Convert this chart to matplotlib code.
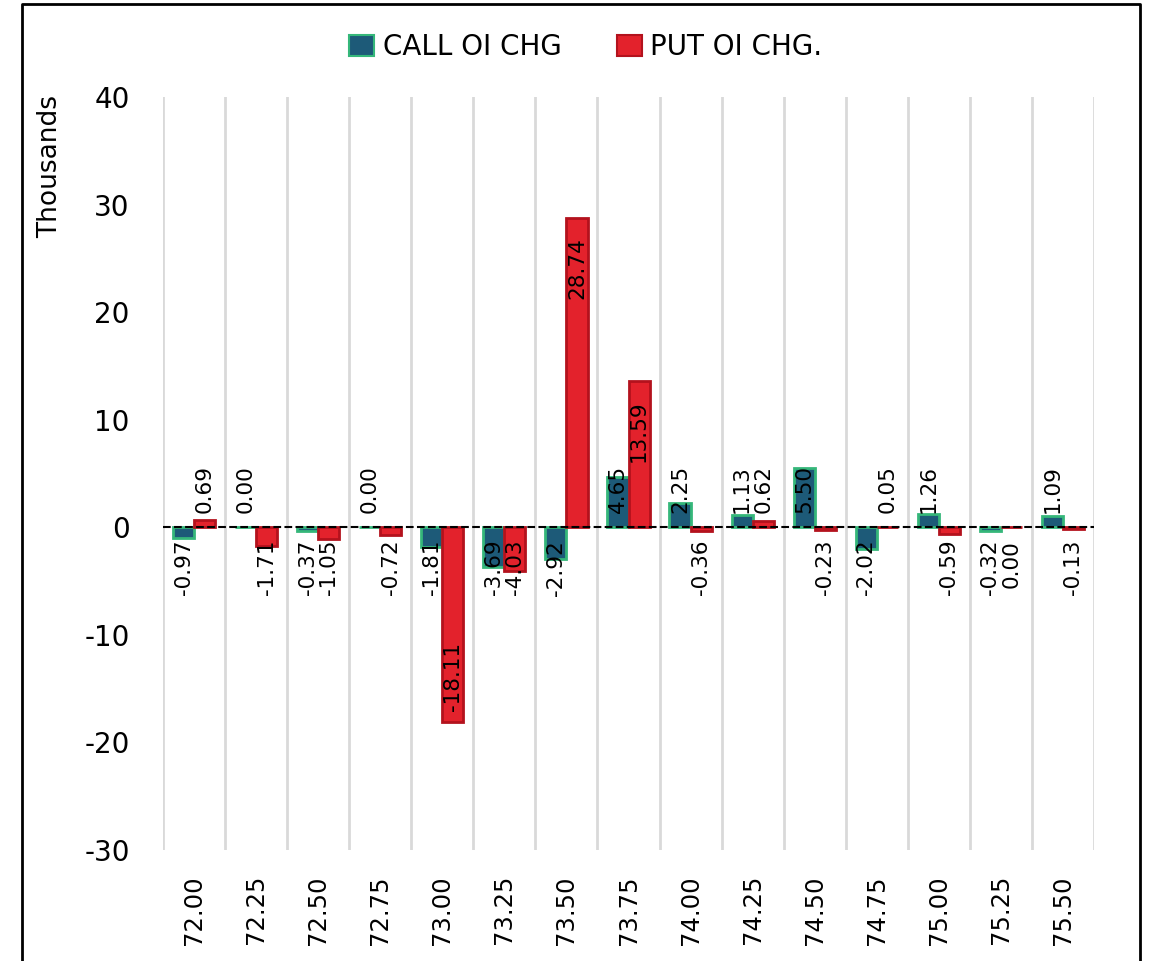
import numpy as np
import matplotlib
matplotlib.use('Agg')
import matplotlib.pyplot as plt
from matplotlib.patches import Patch
from matplotlib.lines import Line2D

plt.rcParams['font.family'] = ['DejaVu Sans']
plt.rcParams['axes.unicode_minus'] = False

# strike prices and OI change (thousands)
strikes = ['72.00', '72.25', '72.50', '72.75', '73.00', '73.25', '73.50', '73.75',
           '74.00', '74.25', '74.50', '74.75', '75.00', '75.25', '75.50']
call_chg = [-0.97, 0.00, -0.37, 0.00, -1.81, -3.69, -2.92, 4.65,
            2.25, 1.13, 5.50, -2.02, 1.26, -0.32, 1.09]
put_chg = [0.69, -1.71, -1.05, -0.72, -18.11, -4.03, 28.74, 13.59,
           -0.36, 0.62, -0.23, 0.05, -0.59, -0.001, -0.13]

call_face, call_edge = '#1d5a78', '#35b77a'
put_face, put_edge = '#e3222c', '#b3121d'

fig = plt.figure(figsize=(11.53, 9.61), dpi=100)
ax = fig.add_axes([0.1414, 0.1155, 0.8074, 0.7835])

x = np.arange(len(strikes))
w = 0.34
ax.bar(x - w/2, call_chg, w, color=call_face, edgecolor=call_edge, linewidth=2, zorder=3)
ax.bar(x + w/2, put_chg, w, color=put_face, edgecolor=put_edge, linewidth=2, zorder=3)


def add_labels(xs, vals):
    for xi, v in zip(xs, vals):
        txt = '%.2f' % abs(v) if abs(v) < 0.005 else '%.2f' % v
        if v >= 0:
            if v > 8:
                ax.annotate(txt, (xi, v), xytext=(0, -14), textcoords='offset points',
                            rotation=90, ha='center', va='top', fontsize=15.5, zorder=5)
            else:
                ax.annotate(txt, (xi, 0), xytext=(0, 10), textcoords='offset points',
                            rotation=90, ha='center', va='bottom', fontsize=15.5, zorder=5)
        else:
            if v < -8:
                ax.annotate(txt, (xi, v), xytext=(0, 8), textcoords='offset points',
                            rotation=90, ha='center', va='bottom', fontsize=15.5, zorder=5)
            else:
                ax.annotate(txt, (xi, 0), xytext=(0, -9), textcoords='offset points',
                            rotation=90, ha='center', va='top', fontsize=15.5, zorder=5)


add_labels(x - w/2, call_chg)
add_labels(x + w/2, put_chg)

ax.axhline(0, color='black', linestyle='--', linewidth=1.5, zorder=4)

ax.set_xlim(-0.5, len(strikes) - 0.5)
ax.set_ylim(-30, 40)
ax.set_yticks(range(-30, 41, 10))
ax.set_xticks(x)
ax.set_xticklabels(strikes, rotation=90)
ax.set_xticks(np.arange(-0.5, len(strikes), 1), minor=True)
ax.grid(which='minor', axis='x', color='#d9d9d9', linewidth=2)
ax.tick_params(which='both', length=0)
ax.tick_params(axis='x', labelsize=17.5, pad=18)
ax.tick_params(axis='y', labelsize=20, pad=24)
for s in ax.spines.values():
    s.set_visible(False)

fig.text(50/1153, 1 - 167/961, 'Thousands', rotation=90, ha='center', va='center', fontsize=19)

handles = [Patch(facecolor=call_face, edgecolor=call_edge, linewidth=1.5),
           Patch(facecolor=put_face, edgecolor=put_edge, linewidth=1.5)]
fig.legend(handles, ['CALL OI CHG', 'PUT OI CHG.'], loc='center', bbox_to_anchor=(0.508, 1 - 47/961),
           ncol=2, frameon=False, fontsize=20, handlelength=0.9, handleheight=0.8,
           handletextpad=0.3, columnspacing=2.0)

# outer chart border
fig.add_artist(Line2D([22/1153, 22/1153, 1140/1153, 1140/1153], [0, 1 - 4/961, 1 - 4/961, 0],
                      color='black', linewidth=2, transform=fig.transFigure))

fig.savefig('out.png', dpi=100)
